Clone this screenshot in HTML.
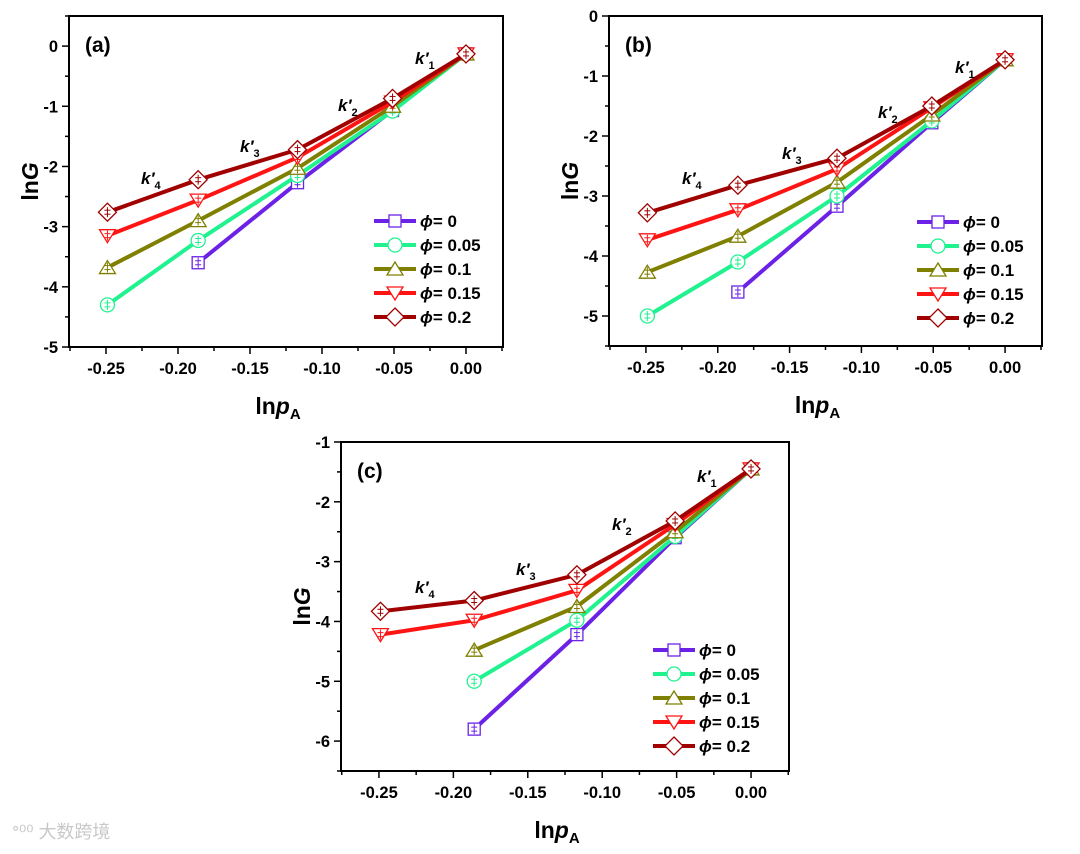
<!DOCTYPE html>
<html><head><meta charset="utf-8"><style>
html,body{margin:0;padding:0;background:#fff;}
svg text{font-family:"Liberation Sans",Arial,sans-serif;font-weight:bold;}
</style></head><body>
<svg id="fig" xmlns="http://www.w3.org/2000/svg" width="1080" height="849" viewBox="0 0 1080 849">
<text x="12" y="838" font-size="18" fill="#c8c8c8" style="font-family:'Liberation Sans','Noto Sans CJK SC',sans-serif;font-weight:normal">ᐤ⁰⁰ 大数跨境</text>
</svg>
<script>
const xValues = [-0.249, -0.186, -0.117, -0.051, 0];
const seriesLabels = ["ϕ = 0", "ϕ = 0.05", "ϕ = 0.1", "ϕ = 0.15", "ϕ = 0.2"];
const xTickLabels = ["-0.25", "-0.20", "-0.15", "-0.10", "-0.05", "0.00"];
const yTicksA = [0, -1, -2, -3, -4, -5];
const yTicksB = [0, -1, -2, -3, -4, -5];
const yTicksC = [-1, -2, -3, -4, -5, -6];
const aPhi0 = [null, -3.6, -2.27, -1.07, -0.13];
const aPhi005 = [-4.3, -3.23, -2.15, -1.08, -0.13];
const aPhi01 = [-3.68, -2.9, -2.03, -1.0, -0.13];
const aPhi015 = [-3.15, -2.56, -1.85, -0.93, -0.13];
const aPhi02 = [-2.76, -2.22, -1.72, -0.87, -0.13];
const bPhi0 = [null, -4.6, -3.17, -1.78, -0.73];
const bPhi005 = [-5.0, -4.1, -3.0, -1.75, -0.73];
const bPhi01 = [-4.27, -3.67, -2.77, -1.65, -0.73];
const bPhi015 = [-3.73, -3.23, -2.55, -1.53, -0.73];
const bPhi02 = [-3.28, -2.82, -2.37, -1.5, -0.73];
const cPhi0 = [null, -5.8, -4.22, -2.6, -1.45];
const cPhi005 = [null, -5.0, -3.98, -2.58, -1.45];
const cPhi01 = [null, -4.48, -3.75, -2.5, -1.45];
const cPhi015 = [-4.22, -3.98, -3.48, -2.38, -1.45];
const cPhi02 = [-3.83, -3.65, -3.22, -2.32, -1.45];

const colors = ["#6b22e6", "#1ff28f", "#7f7f00", "#ff1414", "#a00000"];
const shapes = ["square", "circle", "up", "down", "diamond"];
const NS = "http://www.w3.org/2000/svg";
const svg = document.getElementById("fig");
function mk(tag, attrs, parent) {
  const e = document.createElementNS(NS, tag);
  for (const k in attrs) e.setAttribute(k, attrs[k]);
  (parent || svg).appendChild(e);
  return e;
}
function marker(g, shape, cx, cy, col) {
  const r = 7; let m;
  if (shape === "square") m = mk("rect", {x: cx - 6, y: cy - 6, width: 12, height: 12}, g);
  else if (shape === "circle") m = mk("circle", {cx: cx, cy: cy, r: 7}, g);
  else if (shape === "up") m = mk("polygon", {points: `${cx},${cy - r} ${cx - r - 1},${cy + 6} ${cx + r + 1},${cy + 6}`}, g);
  else if (shape === "down") m = mk("polygon", {points: `${cx},${cy + r} ${cx - r - 1},${cy - 6} ${cx + r + 1},${cy - 6}`}, g);
  else m = mk("polygon", {points: `${cx},${cy - 9} ${cx + 9},${cy} ${cx},${cy + 9} ${cx - 9},${cy}`}, g);
  m.setAttribute("fill", "#fff");
  m.setAttribute("stroke", col);
  m.setAttribute("stroke-width", "1.3");
  return m;
}
function panel(p) {
  const g = mk("g", {});
  
  
  const X = v => p.L + (v - p.x0) / (p.x1 - p.x0) * (p.R - p.L);
  const Y = v => p.T + (p.y1 - v) / (p.y1 - p.y0) * (p.B - p.T);
  for (let i = 0; i <= 12; i++) {
    const v = -0.275 + i * 0.025; const x = X(v);
    const major = i % 2 === 1;
    mk("line", {x1: x, x2: x, y1: p.B, y2: p.B + (major ? 7 : 4), stroke: "#000", "stroke-width": 1.5}, g);
  }
  xTickLabels.forEach((t, i) => {
    const tx = mk("text", {x: X(-0.25 + i * 0.05), y: p.B + 27, "font-size": 16.5, "text-anchor": "middle"}, g);
    tx.textContent = t;
    
    
  });
  for (let v = p.y0; v <= p.y1 + 1e-9; v += 0.5) {
    const major = Math.abs(v - Math.round(v)) < 1e-6;
    mk("line", {x1: p.L - (major ? 7 : 4), x2: p.L, y1: Y(v), y2: Y(v), stroke: "#000", "stroke-width": 1.5}, g);
  }
  p.yt.forEach(v => {
    const tx = mk("text", {x: p.L - 11, y: Y(v) + 6, "font-size": 16.5, "text-anchor": "end"}, g);
    tx.textContent = String(v);
    
    
  });
  const fr = mk("rect", {x: p.L, y: p.T, width: p.R - p.L, height: p.B - p.T, fill: "none", stroke: "#000", "stroke-width": 2}, g);
  
  
  p.series.forEach((s, si) => {
    const sg = mk("g", {}, g);
    
    
    const pts = [];
    s.forEach((v, i) => { if (v !== null) pts.push([X(xValues[i]), Y(v)]); });
    mk("polyline", {points: pts.map(q => q.join(",")).join(" "), fill: "none", stroke: colors[si], "stroke-width": 4, "stroke-linejoin": "round"}, sg);
    pts.forEach(q => {
      const m = marker(sg, shapes[si], q[0], q[1], colors[si]);
      
      
      mk("line", {x1: q[0], x2: q[0], y1: q[1] - 5, y2: q[1] + 5, stroke: colors[si], "stroke-width": 1}, sg);
      mk("line", {x1: q[0] - 3, x2: q[0] + 3, y1: q[1] - 2, y2: q[1] - 2, stroke: colors[si], "stroke-width": 1}, sg);
      mk("line", {x1: q[0] - 3, x2: q[0] + 3, y1: q[1] + 2, y2: q[1] + 2, stroke: colors[si], "stroke-width": 1}, sg);
    });
  });
  const lg = mk("g", {}, g);
  
  
  seriesLabels.forEach((lab, i) => {
    const y = p.legY + i * 24, x = p.legX;
    const eg = mk("g", {}, lg);
    
    
    mk("line", {x1: x, x2: x + 42, y1: y, y2: y, stroke: colors[i], "stroke-width": 4}, eg);
    marker(eg, shapes[i], x + 21, y, colors[i]);
    const t = mk("text", {x: x + 46, y: y + 6, "font-size": 17}, eg);
    t.innerHTML = '<tspan font-style="italic">ϕ</tspan>' + lab.slice(1).replace(" = ", "= ");
  });
  const pl = mk("text", {x: p.L + 16, y: p.T + 36, "font-size": 21}, g);
  pl.textContent = "(" + p.id + ")";
  
  
  p.k.forEach((k, i) => {
    const t = mk("text", {x: k[0], y: k[1], "font-size": 17}, g);
    t.innerHTML = '<tspan font-style="italic">k\u2032</tspan><tspan font-size="11" dy="5">' + (i + 1) + '</tspan>';
    
    
  });
  const yt = mk("text", {x: 0, y: 0, "font-size": 23, "text-anchor": "middle", transform: `translate(${p.L - 31},${(p.T + p.B) / 2}) rotate(-90)`}, g);
  yt.innerHTML = 'ln<tspan font-style="italic">G</tspan>';
  
  
  const xt = mk("text", {x: (p.L + p.R) / 2 - 8, y: p.B + 67, "font-size": 23, "text-anchor": "middle"}, g);
  xt.innerHTML = 'ln<tspan font-style="italic">p</tspan><tspan font-size="15" dy="5">A</tspan>';
  
  
}
panel({id: "a", L: 69, R: 503, T: 16, B: 347, x0: -0.2757, x1: 0.0257, y0: -5, y1: 0.5, yt: yTicksA,
  series: [aPhi0, aPhi005, aPhi01, aPhi015, aPhi02], legX: 374, legY: 221,
  k: [[415, 64], [338, 111], [240, 152], [141, 184]]});
panel({id: "b", L: 609, R: 1042, T: 16, B: 346, x0: -0.2757, x1: 0.0257, y0: -5.5, y1: 0, yt: yTicksB,
  series: [bPhi0, bPhi005, bPhi01, bPhi015, bPhi02], legX: 917, legY: 222,
  k: [[955, 73], [878, 118], [782, 159], [682, 184]]});
panel({id: "c", L: 341, R: 789, T: 442, B: 771, x0: -0.2755, x1: 0.0255, y0: -6.5, y1: -1, yt: yTicksC,
  series: [cPhi0, cPhi005, cPhi01, cPhi015, cPhi02], legX: 653, legY: 650,
  k: [[697, 482], [612, 530], [516, 575], [415, 593]]});
</script>
</body></html>
